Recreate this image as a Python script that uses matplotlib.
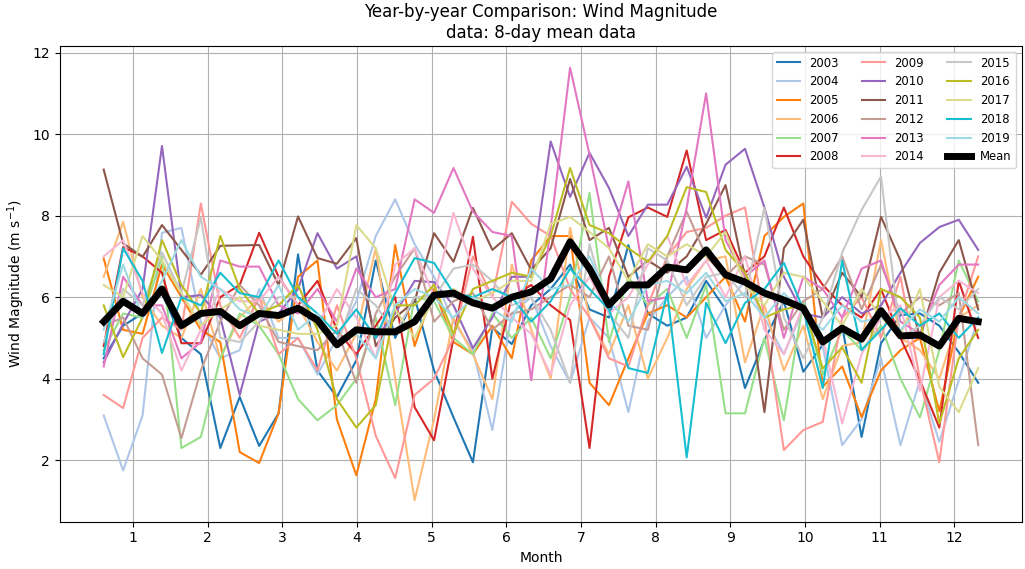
import matplotlib
matplotlib.use("Agg")
import matplotlib.pyplot as plt
import numpy as np

# 8-day composites, day of year of each composite start
doy = np.arange(1, 366, 8)
month_pos = 0.61 + (doy - 1) / 30.75

years = list(range(2003, 2020))

colors = ['#1f77b4', '#aec7e8', '#ff7f0e', '#ffbb78', '#98df8a', '#d62728',
          '#ff9896', '#9467bd', '#8c564b', '#c49c94', '#e377c2', '#f7b6d2',
          '#c7c7c7', '#bcbd22', '#dbdb8d', '#17becf', '#9edae5']

w2003 = [4.5, 5.3, 5.6, 6.1, 5.0, 4.6, 2.3, 3.55, 2.35, 3.15,
         7.05, 4.2, 3.55, 4.45, 6.9, 5.0, 6.0, 4.2, 3.05, 1.95,
         5.25, 4.85, 5.8, 6.2, 6.8, 5.7, 5.5, 7.28, 5.6, 5.3,
         5.5, 6.4, 5.7, 3.77, 4.95, 5.9, 4.17, 4.83, 5.3, 2.57,
         4.87, 5.56, 5.6, 5.3, 4.65, 3.9]
w2004 = [3.1, 1.75, 3.1, 7.58, 7.7, 5.4, 4.5, 4.7, 6.2, 5.0,
         5.0, 4.1, 5.0, 5.9, 7.5, 8.4, 7.3, 6.5, 5.4, 4.7,
         2.74, 5.6, 6.0, 4.8, 3.9, 5.5, 5.0, 3.18, 5.4, 6.0,
         6.5, 5.0, 5.8, 6.4, 5.5, 4.6, 5.7, 4.8, 2.37, 3.0,
         4.5, 2.37, 3.96, 2.45, 3.96, 5.5]
w2005 = [6.95, 5.2, 5.1, 6.8, 6.0, 5.2, 4.9, 2.2, 1.93, 3.15,
         6.5, 6.9, 3.0, 1.63, 3.5, 7.28, 4.8, 6.2, 4.9, 4.6,
         5.3, 4.5, 6.9, 7.5, 7.5, 3.9, 3.35, 4.5, 5.6, 5.8,
         5.5, 6.0, 6.5, 5.4, 7.5, 7.97, 8.3, 3.8, 4.3, 3.06,
         4.2, 4.7, 5.0, 3.2, 5.5, 6.5]
w2006 = [6.5, 7.85, 6.0, 5.3, 5.0, 6.2, 4.5, 5.5, 6.0, 5.4,
         5.8, 4.9, 4.2, 5.1, 7.2, 4.0, 1.02, 3.0, 5.5, 4.6,
         3.5, 6.8, 5.2, 4.0, 7.7, 5.5, 4.6, 5.8, 4.0, 5.0,
         6.2, 6.9, 7.0, 4.4, 5.8, 4.2, 5.3, 3.5, 4.8, 4.9,
         7.4, 5.0, 4.7, 4.0, 5.5, 5.8]
w2007 = [4.7, 5.6, 5.5, 7.0, 2.3, 2.57, 4.5, 5.6, 5.3, 4.6,
         3.5, 2.98, 3.35, 4.0, 5.5, 3.35, 6.0, 5.9, 5.0, 4.6,
         5.6, 5.0, 5.5, 4.5, 6.0, 8.56, 4.9, 6.5, 5.8, 6.2,
         5.0, 6.3, 3.15, 3.15, 5.0, 2.98, 5.9, 4.1, 5.2, 4.7,
         5.3, 4.0, 3.05, 4.7, 6.9, 5.9]
w2008 = [4.8, 7.23, 7.0, 6.6, 4.87, 4.87, 6.0, 6.3, 7.58, 6.5,
         5.8, 6.4, 5.2, 4.6, 5.3, 6.0, 3.3, 2.49, 5.0, 7.48,
         4.0, 6.0, 6.3, 5.8, 5.44, 2.3, 6.5, 7.96, 8.2, 7.97,
         9.6, 7.4, 7.65, 6.6, 7.0, 8.2, 7.0, 6.3, 5.8, 5.5,
         6.2, 5.0, 3.96, 2.8, 6.4, 5.0]
w2009 = [3.6, 3.28, 5.0, 5.5, 5.2, 8.3, 5.8, 5.0, 6.0, 4.6,
         5.0, 4.2, 5.8, 4.5, 2.6, 1.56, 3.6, 4.0, 5.0, 7.0,
         6.0, 8.34, 7.8, 7.5, 6.2, 5.5, 4.5, 4.3, 5.8, 7.0,
         7.6, 7.7, 8.0, 8.2, 5.5, 2.25, 2.74, 2.94, 5.5, 6.0,
         5.0, 6.5, 4.0, 1.95, 5.5, 7.0]
w2010 = [4.4, 5.35, 6.2, 9.71, 6.0, 6.05, 5.5, 3.6, 5.4, 5.6,
         6.2, 7.57, 6.7, 7.0, 5.0, 5.6, 6.4, 6.37, 5.8, 4.75,
         5.5, 6.5, 6.5, 9.82, 8.46, 9.54, 8.68, 7.5, 8.27, 8.27,
         9.2, 7.95, 9.25, 9.64, 8.2, 6.5, 5.6, 5.5, 6.0, 5.6,
         5.8, 6.6, 7.33, 7.72, 7.9, 7.16]
w2011 = [9.13, 7.32, 6.99, 7.77, 7.16, 6.55, 7.26, 7.27, 7.28, 6.3,
         7.98, 6.96, 6.82, 7.45, 4.8, 5.5, 5.9, 7.57, 6.87, 8.19,
         7.16, 7.57, 6.67, 7.2, 8.9, 7.4, 7.7, 6.5, 6.9, 6.6,
         7.0, 7.8, 8.75, 6.5, 3.18, 7.2, 7.9, 5.5, 6.6, 6.0,
         7.97, 6.9, 5.0, 6.6, 7.4, 5.7]
w2012 = [5.3, 5.5, 4.5, 4.1, 2.54, 4.2, 5.4, 6.3, 5.8, 4.9,
         4.8, 4.7, 5.2, 3.9, 5.6, 6.5, 7.2, 5.4, 5.9, 6.1,
         5.2, 5.6, 5.7, 6.0, 6.3, 6.0, 7.0, 5.3, 5.2, 7.0,
         8.1, 7.0, 6.5, 7.0, 6.8, 5.2, 5.9, 6.2, 7.0, 5.7,
         6.8, 5.6, 6.0, 5.8, 6.1, 2.37]
w2013 = [4.3, 6.5, 5.8, 5.8, 4.5, 4.9, 6.9, 6.75, 6.75, 5.8,
         5.6, 6.2, 5.4, 6.7, 6.0, 6.2, 8.4, 8.07, 9.17, 8.1,
         7.6, 7.5, 3.96, 7.7, 11.63, 9.5, 7.2, 8.84, 5.9, 6.0,
         8.2, 11.0, 7.4, 6.5, 6.9, 5.0, 6.5, 6.2, 5.5, 6.7,
         6.9, 5.4, 5.1, 6.3, 6.8, 6.8]
w2014 = [7.0, 7.4, 6.1, 5.6, 4.2, 5.2, 6.2, 5.9, 5.9, 6.5,
         5.8, 5.3, 6.2, 5.5, 4.5, 6.8, 7.2, 6.0, 8.07, 6.7,
         6.0, 5.5, 5.1, 4.1, 5.8, 6.5, 5.6, 6.0, 6.8, 7.5,
         6.3, 6.9, 6.0, 7.0, 5.2, 4.6, 5.8, 5.0, 2.9, 4.6,
         5.5, 5.8, 3.7, 6.0, 6.4, 6.1]
w2015 = [4.9, 6.2, 5.8, 7.1, 6.1, 7.95, 5.0, 4.9, 5.4, 6.0,
         6.0, 5.3, 4.8, 6.2, 5.8, 5.1, 6.0, 6.0, 6.7, 6.8,
         6.4, 5.8, 6.0, 5.2, 3.9, 7.3, 5.6, 5.0, 7.2, 6.9,
         5.8, 6.5, 6.6, 6.0, 8.2, 5.5, 4.5, 5.5, 7.09, 8.14,
         8.96, 5.0, 5.3, 6.0, 5.7, 6.2]
w2016 = [5.8, 4.53, 5.5, 7.4, 6.3, 5.6, 7.5, 6.2, 5.6, 5.8,
         6.3, 5.2, 3.5, 2.8, 3.35, 5.8, 5.8, 6.3, 5.1, 6.2,
         6.4, 6.6, 6.5, 7.5, 9.17, 7.77, 7.57, 7.2, 6.87, 7.5,
         8.7, 8.58, 7.16, 6.6, 5.5, 5.7, 5.8, 4.25, 4.77, 3.9,
         6.2, 6.0, 5.5, 2.9, 4.5, 5.2]
w2017 = [6.3, 6.0, 7.5, 6.9, 6.1, 5.3, 5.7, 6.0, 5.3, 5.2,
         5.1, 5.1, 5.3, 7.77, 7.2, 5.7, 5.0, 6.0, 6.2, 5.9,
         6.1, 6.4, 6.4, 7.8, 7.97, 7.6, 7.2, 6.4, 7.3, 7.0,
         7.3, 7.0, 7.6, 6.3, 5.8, 6.6, 6.5, 5.9, 5.3, 6.2,
         5.5, 5.1, 6.2, 3.8, 3.18, 4.26]
w2018 = [4.6, 7.2, 6.4, 4.63, 6.0, 5.8, 6.6, 6.1, 6.0, 6.9,
         6.0, 5.6, 5.1, 5.7, 5.0, 6.1, 6.96, 6.84, 6.1, 6.0,
         6.2, 6.0, 5.4, 5.9, 6.7, 6.2, 5.7, 4.26, 4.14, 6.1,
         2.07, 5.86, 4.87, 5.86, 6.2, 6.84, 5.7, 3.77, 6.9, 4.7,
         5.2, 5.73, 5.3, 5.6, 5.0, 5.5]
w2019 = [5.2, 6.8, 5.5, 6.4, 7.4, 6.5, 6.2, 5.7, 5.5, 6.3,
         5.2, 5.6, 4.9, 5.1, 4.5, 5.8, 6.2, 6.0, 5.5, 6.0,
         5.7, 5.4, 6.7, 6.2, 6.3, 7.0, 5.9, 5.4, 6.3, 6.4,
         6.1, 6.6, 5.9, 6.1, 5.5, 6.1, 5.6, 5.2, 5.8, 5.4,
         5.5, 5.2, 5.7, 5.4, 6.0, 5.6]

wind_mean = [5.4, 5.9, 5.6, 6.2, 5.3, 5.6, 5.65, 5.3, 5.6, 5.55,
             5.73, 5.44, 4.83, 5.2, 5.15, 5.15, 5.4, 6.05, 6.1, 5.86,
             5.73, 6.0, 6.13, 6.45, 7.36, 6.7, 5.81, 6.3, 6.3, 6.74,
             6.67, 7.16, 6.55, 6.37, 6.1, 5.93, 5.73, 4.9, 5.24, 4.97,
             5.67, 5.05, 5.07, 4.8, 5.48, 5.4]

series = [w2003, w2004, w2005, w2006, w2007, w2008, w2009, w2010, w2011,
          w2012, w2013, w2014, w2015, w2016, w2017, w2018, w2019]

fig, ax = plt.subplots(figsize=(10.25, 5.69), dpi=100)
fig.subplots_adjust(left=0.0585, right=0.997, top=0.919, bottom=0.083)

for yr, vals, c in zip(years, series, colors):
    ax.plot(month_pos, vals, color=c, linewidth=1.5, label=str(yr))
ax.plot(month_pos, wind_mean, color='black', linewidth=5, label='Mean')

ax.set_xticks(range(1, 13))
ax.grid(True)
ax.set_xlabel('Month')
ax.set_ylabel('Wind Magnitude (m s$^{-1}$)')
ax.set_title('Year-by-year Comparison: Wind Magnitude\ndata: 8-day mean data')
ax.legend(ncol=3, loc='upper right', fontsize='small')

fig.savefig('out.png', dpi=100)
